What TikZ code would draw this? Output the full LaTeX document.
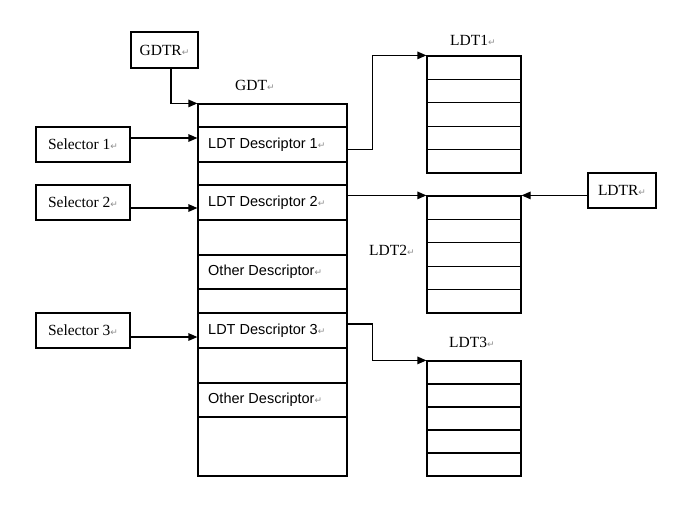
\documentclass[tikz,border=0pt]{standalone}
\usepackage{fontspec}
\setmainfont{Liberation Serif}
\newfontfamily\descfont{Liberation Sans}
\newfontfamily\markfont{DejaVu Sans}
\usetikzlibrary{arrows.meta}
% paragraph mark after each text
\newcommand\retmark{{\markfont\fontsize{9}{9}\selectfont\color{black!45}↵}}
\begin{document}
\begin{tikzpicture}[x=1pt,y=-1pt,
  every node/.style={inner sep=0pt},
  cell/.style={draw, line width=1.2pt, inner sep=0pt},
  regbox/.style={cell, font=\fontsize{15.5}{15.5}\selectfont},
  title/.style={anchor=west, font=\fontsize{15.5}{15.5}\selectfont},
  desc/.style={anchor=west, font=\descfont\fontsize{14.5}{14.5}\selectfont},
  link/.style={line width=1.2pt, -{Triangle[length=9pt,width=7.5pt]}}]
\useasboundingbox (0,0) rectangle (679,504);

% GDT table rows
\foreach \nm/\yc/\h in {g0/115.5/23, g1/144.5/35, g2/173.5/23, g3/202.5/35,
  g4/237.5/35, g5/272/34, g6/301/24, g7/330.5/35, g8/365.5/35, g9/400/34, g10/446.5/59}
  \node[cell, minimum width=149pt, minimum height=\h pt] (\nm) at (272.5,\yc) {};

\node[title] (gdtlbl) at (235,85) {GDT\retmark};
\node[desc] (d1) at (208,144.5) {LDT Descriptor 1\retmark};
\node[desc] (d2) at (208,202.5) {LDT Descriptor 2\retmark};
\node[desc] (d5) at (208,272) {Other Descriptor\retmark};
\node[desc] (d3) at (208,330.5) {LDT Descriptor 3\retmark};
\node[desc] (d9) at (208,400) {Other Descriptor\retmark};

% LDT tables
\foreach \i in {0,...,4} {
  \node[cell, minimum width=94pt, minimum height=23.4pt] (ldtA-\i) at (474,{67.7+23.4*\i}) {};
  \node[cell, minimum width=94pt, minimum height=23.4pt] (ldtB-\i) at (474,{207.7+23.4*\i}) {};
  \node[cell, minimum width=94pt, minimum height=23pt] (ldtC-\i) at (474,{372.5+23*\i}) {};
}
\node[title] (l1lbl) at (450,40) {LDT1\retmark};
\node[title] (l2lbl) at (369,250) {LDT2\retmark};
\node[title] (l3lbl) at (449,342) {LDT3\retmark};

% registers and selectors
\node[regbox, minimum width=67pt, minimum height=36pt] (gdtr) at (164.5,50) {GDTR\retmark};
\node[regbox, minimum width=68pt, minimum height=35pt] (ldtr) at (622,190.5) {LDTR\retmark};
\node[regbox, minimum width=94pt, minimum height=35pt] (s1) at (83,144.5) {Selector 1\retmark};
\node[regbox, minimum width=94pt, minimum height=35pt] (s2) at (83,202.5) {Selector 2\retmark};
\node[regbox, minimum width=94pt, minimum height=35pt] (s3) at (83,330.5) {Selector 3\retmark};

% connectors
\draw[link] ([xshift=6.5pt]gdtr.south) |- (g0.north west);
\draw[link] ([yshift=6.5pt]s1.east) -- ([yshift=6.5pt]g1.west);
\draw[link] ([yshift=-5.5pt]s2.east) -- ([yshift=-5.5pt]g3.west);
\draw[link] ([yshift=-6.5pt]s3.east) -- ([yshift=-6.5pt]g7.west);
\draw[link] ([yshift=-5pt]g1.east) -| ([xshift=-54pt]ldtA-0.north west) -- (ldtA-0.north west);
\draw[link] (ldtB-0.north west -| g3.east) -- (ldtB-0.north west);
\draw[link] (ldtr.west |- ldtB-0.north east) -- (ldtB-0.north east);
\draw[link] ([yshift=6.5pt]g7.east) -| ([xshift=-54pt]ldtC-0.north west) -- (ldtC-0.north west);
\end{tikzpicture}
\end{document}
